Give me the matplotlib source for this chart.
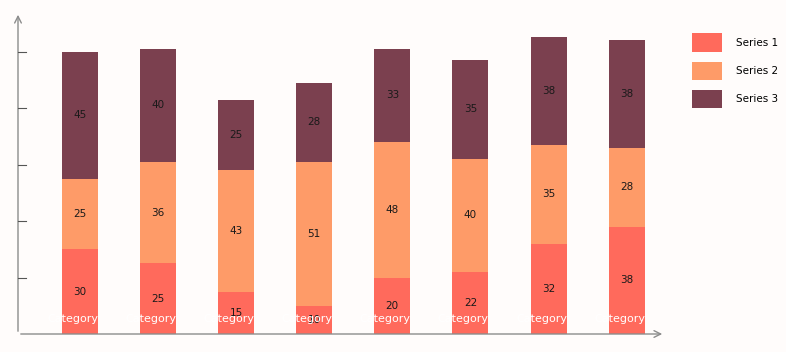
import matplotlib
matplotlib.use("Agg")
import matplotlib.pyplot as plt
import numpy as np

# ─── Data ──────────────────────────────────────────────────────────────────────
categories = ["Category"] * 8
series_names = ["Series 1", "Series 2", "Series 3"]
series1 = [30, 25, 15, 10, 20, 22, 32, 38]
series2 = [25, 36, 43, 51, 48, 40, 35, 28]
series3 = [45, 40, 25, 28, 33, 35, 38, 38]

COLORS = ["#ff6a5c", "#fe9b68", "#7b404f"]
BG = "#fffcfb"
AXIS = "#8c8c8c"

# ─── Figure ────────────────────────────────────────────────────────────────────
W, H = 786, 352
fig = plt.figure(figsize=(W / 100, H / 100), dpi=100, facecolor=BG)
ax = fig.add_axes([18 / W, (H - 334) / H, (665 - 18) / W, (334 - 12) / H])
ax.set_facecolor(BG)

x = np.arange(len(categories))
ax.set_xlim(-0.79, 7.49)
ax.set_ylim(0, 114)
width = 0.46

bottom = np.zeros(len(x))
for name, vals, col in zip(series_names, [series1, series2, series3], COLORS):
    bars = ax.bar(x, vals, width, bottom=bottom, color=col, label=name, zorder=2)
    for b, v, y0 in zip(bars, vals, bottom):
        ax.text(b.get_x() + b.get_width() / 2, y0 + v / 2, str(v),
                ha="center", va="center", fontsize=7.5, color="#1a1a1a", zorder=4)
    if name == "Series 1":
        first_bars = bars
    bottom += np.array(vals)

# category labels, clipped to the bottom bar
for b, cat in zip(first_bars, categories):
    t = ax.text(b.get_x() + b.get_width() + 0.005, 5.3, cat, ha="right", va="center",
                fontsize=8, color="white", zorder=5)
    t.set_clip_path(b)

# axes with arrows, unlabeled ticks
for s in ax.spines.values():
    s.set_visible(False)
ax.set_xticks([])
ax.set_yticks([])
ax.annotate("", xy=(7.49, 0), xytext=(-0.79, 0),
            arrowprops=dict(arrowstyle="->", color=AXIS, lw=1, mutation_scale=12),
            annotation_clip=False, zorder=3)
ax.annotate("", xy=(-0.79, 114), xytext=(-0.79, 0),
            arrowprops=dict(arrowstyle="->", color=AXIS, lw=1, mutation_scale=12),
            annotation_clip=False, zorder=3)
for yt in [20, 40, 60, 80, 100]:
    ax.plot([-0.79, -0.69], [yt, yt], color="#555555", lw=0.8, clip_on=False, zorder=3)

leg = fig.legend(loc="upper left", bbox_to_anchor=(684 / W, 1 - 25 / H),
                 frameon=False, fontsize=7.5, handlelength=2.8, handleheight=2.4,
                 labelspacing=0.9, handletextpad=1.35, borderpad=0.3)

fig.savefig("out.png", dpi=100, facecolor=BG)
